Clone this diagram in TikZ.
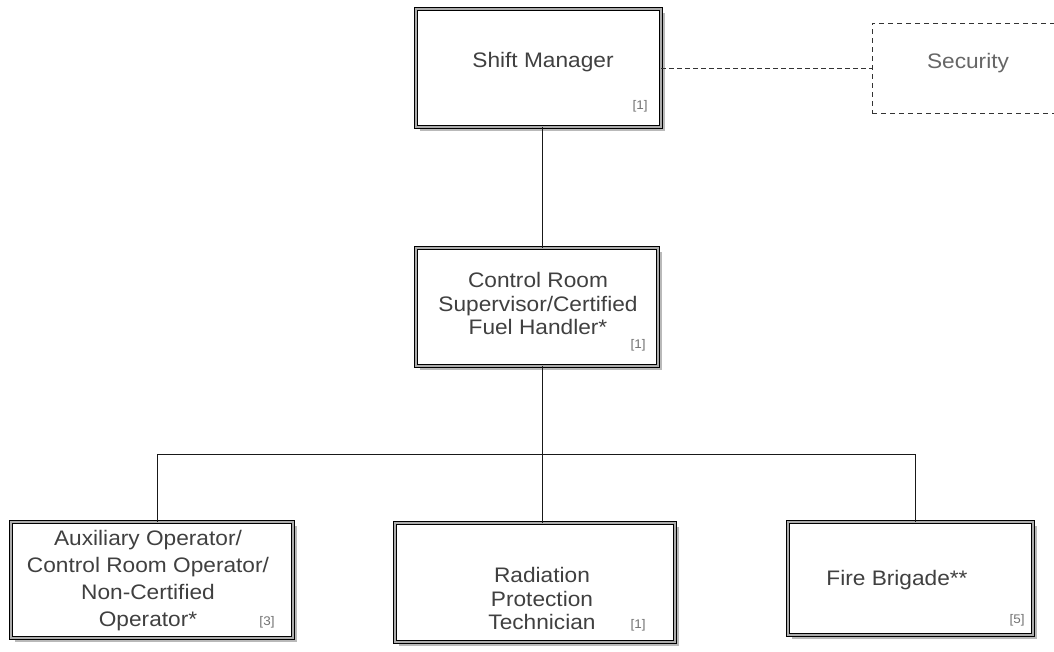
\documentclass[tikz,border=0pt]{standalone}
\usepackage{fontspec}
\setmainfont{Liberation Sans}[FakeStretch=1.08]
\usetikzlibrary{shadows}
\begin{document}
\begin{tikzpicture}[x=1pt,y=-1pt,
  orgbox/.style={rectangle, inner sep=0pt, draw=black, line width=0.9pt,
    double=gray!65, double distance=1.8pt, fill=white,
    drop shadow={shadow xshift=3.5pt, shadow yshift=-3.5pt, fill=gray!55, opacity=1}},
  secbox/.style={rectangle, inner sep=0pt, draw=black!80, line width=1pt,
    dash pattern=on 5pt off 4pt},
  maintext/.style={inner sep=0pt, align=center, text=black!75,
    font=\fontsize{21}{24}\selectfont},
  numtext/.style={inner sep=0pt, text=black!55, font=\fontsize{12.5}{14}\selectfont},
  conn/.style={draw=black!90, line width=1pt},
  dconn/.style={draw=black!80, line width=1pt, dash pattern=on 5pt off 3pt}
]
\useasboundingbox (0,0) rectangle (1054,651);

% boxes
\node[orgbox, minimum width=245pt, minimum height=118pt] (sm) at (538.5,68) {};
\node[secbox, minimum width=186pt, minimum height=90pt] (sec) at (965,68) {};
\node[orgbox, minimum width=242pt, minimum height=118pt] (cr) at (537,307) {};
\node[orgbox, minimum width=282pt, minimum height=116pt] (aux) at (152,580) {};
\node[orgbox, minimum width=280pt, minimum height=119pt] (rpt) at (535,582.5) {};
\node[orgbox, minimum width=245pt, minimum height=113pt] (fire) at (910.5,578.5) {};

% texts
\node[maintext] (smt) at (543,62) {Shift Manager};
\node[numtext] (smn) at (640,106) {[1]};
\node[maintext, text=black!60] (sect) at (968,63) {Security};
\node[maintext, font=\fontsize{21}{23.5}\selectfont] (crt) at (538,303.5) {Control Room\\Supervisor/Certified\\Fuel Handler*};
\node[numtext] (crn) at (638,345) {[1]};
\node[maintext, font=\fontsize{21}{27}\selectfont] (auxt) at (148,581) {Auxiliary Operator/\\Control Room Operator/\\Non-Certified\\Operator*};
\node[numtext] (auxn) at (267,622) {[3]};
\node[maintext, font=\fontsize{21}{23.5}\selectfont] (rptt) at (542,598.5) {Radiation\\Protection\\Technician};
\node[numtext] (rptn) at (638,625) {[1]};
\node[maintext] (firet) at (897,580) {Fire Brigade**};
\node[numtext] (firen) at (1017,620) {[5]};

% connectors
\coordinate (j0) at (542,454);
\coordinate (jl) at (157,454);
\coordinate (jr) at (915,454);
\draw[conn] (sm.south -| j0) -- (cr.north -| j0);
\draw[conn] (cr.south -| j0) -- (j0);
\draw[conn] (jl) -- (jr);
\draw[conn] (jl) -- (aux.north -| jl);
\draw[conn] (j0) -- (rpt.north -| j0);
\draw[conn] (jr) -- (fire.north -| jr);
\draw[dconn] (sm.east) -- (sec.west);
\end{tikzpicture}
\end{document}
